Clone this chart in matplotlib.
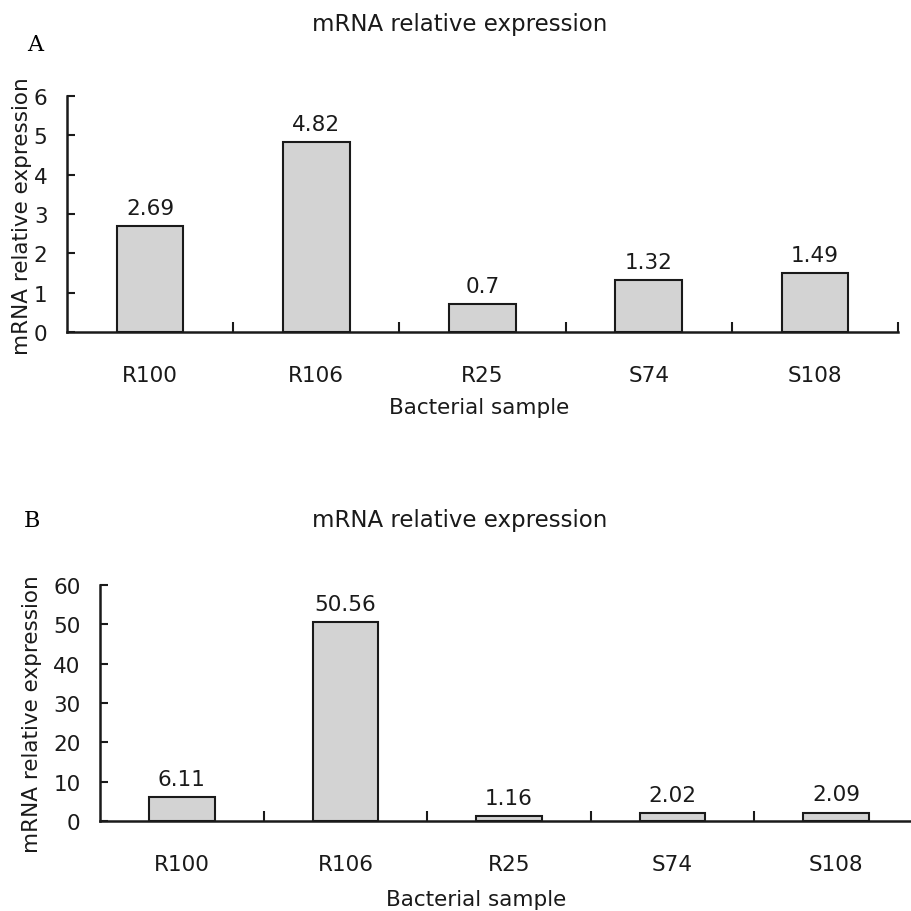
import matplotlib
matplotlib.use("Agg")
import matplotlib.pyplot as plt
import numpy as np
from matplotlib.ticker import FixedLocator

categories = ["R100", "R106", "R25", "S74", "S108"]
values_a = [2.69, 4.82, 0.7, 1.32, 1.49]
values_b = [6.11, 50.56, 1.16, 2.02, 2.09]
labels_a = ["2.69", "4.82", "0.7", "1.32", "1.49"]
labels_b = ["6.11", "50.56", "1.16", "2.02", "2.09"]
yticks_a = [0, 1, 2, 3, 4, 5, 6]
yticks_b = [0, 10, 20, 30, 40, 50, 60]

plt.rcParams['font.family'] = ['DejaVu Sans']
W = H = 912
fig = plt.figure(figsize=(9.12, 9.12), dpi=100)

def px(x0, y0, x1, y1):
    return [x0 / W, 1 - y1 / H, (x1 - x0) / W, (y1 - y0) / H]

def draw(ax, vals, labs, yt, ylab_xy, xlab_xy):
    x = np.arange(len(categories))
    ax.bar(x, vals, width=0.4, color="#d3d3d3", edgecolor="#1a1a1a", linewidth=1.5)
    ax.set_xlim(-0.5, len(categories) - 0.5)
    ax.set_ylim(yt[0], yt[-1])
    ax.set_yticks(yt)
    ax.set_xticks(x)
    ax.set_xticklabels(categories, fontsize=15.5, color="#1a1a1a")
    ax.xaxis.set_minor_locator(FixedLocator(np.arange(0.5, len(categories), 1.0)))
    ax.tick_params(axis="x", which="major", length=0, pad=24)
    ax.tick_params(axis="x", which="minor", direction="in", length=7, width=1.5, color="#1a1a1a")
    ax.tick_params(axis="y", direction="in", length=6, width=1.5, color="#1a1a1a",
                   labelsize=15.5, labelcolor="#1a1a1a", pad=14)
    for s in ["top", "right"]:
        ax.spines[s].set_visible(False)
    for s in ["left", "bottom"]:
        ax.spines[s].set_linewidth(1.8)
        ax.spines[s].set_color("#1a1a1a")
    for xi, v, l in zip(x, vals, labs):
        ax.annotate(l, (xi, v), xytext=(0, 6), textcoords="offset points",
                    ha="center", va="bottom", fontsize=15.5, color="#1a1a1a")
    ax.set_ylabel("mRNA relative expression", fontsize=15.5, fontweight="medium", color="#1a1a1a")
    ax.yaxis.set_label_coords(ylab_xy[0] / W, 1 - ylab_xy[1] / H, transform=fig.transFigure)
    ax.set_xlabel("Bacterial sample", fontsize=15.5, color="#1a1a1a")
    ax.xaxis.set_label_coords(xlab_xy[0] / W, 1 - xlab_xy[1] / H, transform=fig.transFigure)

ax1 = fig.add_axes(px(67, 97, 898, 333))
draw(ax1, values_a, labels_a, yt=yticks_a, ylab_xy=(32, 216), xlab_xy=(479, 398))
ax2 = fig.add_axes(px(100, 586, 918, 822))
draw(ax2, values_b, labels_b, yt=yticks_b, ylab_xy=(42, 714), xlab_xy=(476, 890))

for yc in (25, 521):
    fig.text(460 / W, 1 - yc / H, "mRNA relative expression", ha="center", va="center",
             fontsize=16.5, color="#1a1a1a")
fig.text(35 / W, 1 - 45 / H, "A", family="DejaVu Serif", fontsize=16, ha="center", va="center")
fig.text(32 / W, 1 - 521 / H, "B", family="DejaVu Serif", fontsize=16, ha="center", va="center")

fig.savefig("out.png", dpi=100)
